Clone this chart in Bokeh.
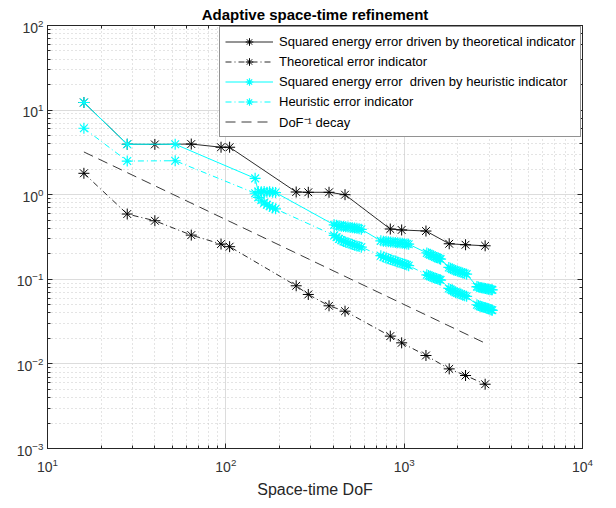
from bokeh.plotting import figure
from bokeh.models import LogAxis, Legend, LegendItem, Range1d, LogTicker
from bokeh.embed import file_html
from bokeh.resources import INLINE

# Refinement driven by the theoretical indicator
dof_theo = [16, 28, 40, 64, 94, 105, 248, 290, 379, 466, 836, 968, 1325, 1789, 2209, 2845]
energy_theo = [12.3, 3.95, 3.93, 3.97, 3.64, 3.64, 1.076, 1.068, 1.068, 1.0,
               0.393, 0.383, 0.372, 0.263, 0.256, 0.249]
indicator_theo = [1.79, 0.591, 0.492, 0.333, 0.261, 0.243, 0.0838, 0.0662, 0.0486, 0.0420,
                  0.0213, 0.01774, 0.01257, 0.00873, 0.00729, 0.00575]

# Refinement driven by the heuristic indicator
dof_heur = [16, 28, 52, 146,
            152, 158, 164, 170, 176, 183, 190,
            405, 418, 431, 444, 457, 470, 484, 498, 512, 527, 543, 559, 575,
            740, 765, 790, 815, 840, 866, 892, 920, 948, 976, 1005, 1035, 1060,
            1340, 1370, 1400, 1430, 1460, 1490, 1520, 1550, 1580, 1600,
            1780, 1820, 1860, 1900, 1940, 1985, 2030, 2080, 2130, 2185, 2240,
            2560, 2610, 2660, 2710, 2760, 2810, 2860, 2915, 2970, 3030, 3080, 3120]
energy_heur = [12.3, 3.95, 3.95, 1.56,
               1.09, 1.08, 1.09, 1.07, 1.08, 1.07, 1.06,
               0.44, 0.435, 0.43, 0.425, 0.42, 0.418, 0.415, 0.41, 0.407, 0.403, 0.40, 0.395, 0.39,
               0.285, 0.282, 0.28, 0.278, 0.276, 0.274, 0.272, 0.27, 0.268, 0.266, 0.264, 0.262, 0.26,
               0.205, 0.200, 0.196, 0.192, 0.188, 0.184, 0.181, 0.178, 0.175, 0.173,
               0.138, 0.135, 0.132, 0.129, 0.127, 0.125, 0.123, 0.121, 0.119, 0.117, 0.115,
               0.082, 0.081, 0.080, 0.0795, 0.079, 0.0785, 0.078, 0.077, 0.0765, 0.076, 0.0755, 0.075]
indicator_heur = [6.1, 2.5, 2.52, 1.04,
                  0.93, 0.86, 0.80, 0.76, 0.73, 0.70, 0.68,
                  0.33, 0.315, 0.30, 0.29, 0.28, 0.275, 0.27, 0.263, 0.258, 0.253, 0.248, 0.244, 0.24,
                  0.19, 0.184, 0.179, 0.175, 0.171, 0.167, 0.164, 0.160, 0.157, 0.154, 0.151, 0.148, 0.145,
                  0.113, 0.111, 0.109, 0.107, 0.105, 0.103, 0.102, 0.100, 0.099, 0.098,
                  0.078, 0.076, 0.074, 0.072, 0.070, 0.069, 0.068, 0.067, 0.065, 0.064, 0.063,
                  0.050, 0.049, 0.048, 0.0475, 0.047, 0.0465, 0.046, 0.0455, 0.045, 0.044, 0.0435, 0.043]

# Reference slope DoF^-1
dof_ref = [16, 2944]
ref_decay = [3.2, 0.0170]

labels = ["Squared energy error driven by theoretical indicator",
          "Theoretical error indicator",
          "Squared energy error  driven by heuristic indicator",
          "Heuristic error indicator",
          "DoF\u207b\u00b9 decay"]

FONT = "Liberation Sans"
AX = "#262626"
CYAN = "#00ffff"

p = figure(width=616, height=508, x_axis_type="log", y_axis_type="log",
           x_range=Range1d(10, 1e4), y_range=Range1d(1e-3, 1e2),
           output_backend="svg", toolbar_location=None,
           min_border_left=47, min_border_right=34, min_border_top=25, min_border_bottom=60,
           title="Adaptive space-time refinement")

p.title.align = "center"
p.title.text_font = FONT
p.title.text_font_size = "15px"
p.title.text_font_style = "bold"
p.title.text_color = "#000000"
p.title.standoff = 5
p.title.offset = 0

p.outline_line_color = AX
p.outline_line_width = 1

for axis in (p.xaxis[0], p.yaxis[0]):
    axis.axis_line_color = AX
    axis.major_tick_line_color = AX
    axis.minor_tick_line_color = AX
    axis.major_tick_in = 5
    axis.major_tick_out = 0
    axis.minor_tick_in = 3
    axis.minor_tick_out = 0
    axis.major_label_text_font = FONT
    axis.major_label_text_font_size = "14px"
    axis.major_label_text_color = "#333333"

p.xaxis.major_label_standoff = 9
p.yaxis.major_label_standoff = 4
p.xaxis.axis_label = "Space-time DoF"
p.xaxis.axis_label_text_font = FONT
p.xaxis.axis_label_text_font_size = "16px"
p.xaxis.axis_label_text_font_style = "normal"
p.xaxis.axis_label_text_color = AX
p.xaxis.axis_label_standoff = 6

# tick marks on the top and right edges of the box (labels hidden)
def edge_axis():
    return LogAxis(ticker=LogTicker(), major_label_text_font_size="1px",
                   major_label_text_color=None, major_label_standoff=0,
                   major_tick_in=5, major_tick_out=0, minor_tick_in=3, minor_tick_out=0,
                   axis_line_color=AX, major_tick_line_color=AX, minor_tick_line_color=AX)

p.add_layout(edge_axis(), "above")
p.add_layout(edge_axis(), "right")

for g in (p.xgrid[0], p.ygrid[0]):
    g.grid_line_color = "#dcdcdc"
    g.grid_line_width = 1
    g.minor_grid_line_color = "#c8c8c8"
    g.minor_grid_line_dash = "1 3"
    g.minor_grid_line_width = 1

MS = 11

l1 = p.line(dof_theo, energy_theo, line_color="#2b2b2b", line_width=1)
s1 = p.scatter(dof_theo, energy_theo, marker="asterisk", size=MS, line_color="#000000", line_width=1)
l2 = p.line(dof_theo, indicator_theo, line_color="#2b2b2b", line_width=1, line_dash="6 3 1 3")
s2 = p.scatter(dof_theo, indicator_theo, marker="asterisk", size=MS, line_color="#000000", line_width=1)
l3 = p.line(dof_heur, energy_heur, line_color=CYAN, line_width=1)
s3 = p.scatter(dof_heur, energy_heur, marker="asterisk", size=MS, line_color=CYAN, line_width=1.2)
l4 = p.line(dof_heur, indicator_heur, line_color=CYAN, line_width=1, line_dash="6 3 1 3")
s4 = p.scatter(dof_heur, indicator_heur, marker="asterisk", size=MS, line_color=CYAN, line_width=1.2)
l5 = p.line(dof_ref, ref_decay, line_color="#3a3a3a", line_width=1, line_dash="10 6")

legend = Legend(items=[
    LegendItem(label=labels[0], renderers=[l1, s1]),
    LegendItem(label=labels[1], renderers=[l2, s2]),
    LegendItem(label=labels[2], renderers=[l3, s3]),
    LegendItem(label=labels[3], renderers=[l4, s4]),
    LegendItem(label=labels[4], renderers=[l5]),
], location=(172, 311))
legend.label_text_font = FONT
legend.label_text_font_size = "13px"
legend.label_text_color = "#000000"
legend.glyph_width = 48
legend.glyph_height = 19
legend.label_height = 19
legend.label_standoff = 6
legend.spacing = 1
legend.padding = 5
legend.margin = 0
legend.border_line_color = AX
legend.border_line_width = 1
legend.background_fill_color = "#ffffff"
legend.background_fill_alpha = 1
p.add_layout(legend, "center")

open("out.html", "w").write(file_html(p, INLINE))
